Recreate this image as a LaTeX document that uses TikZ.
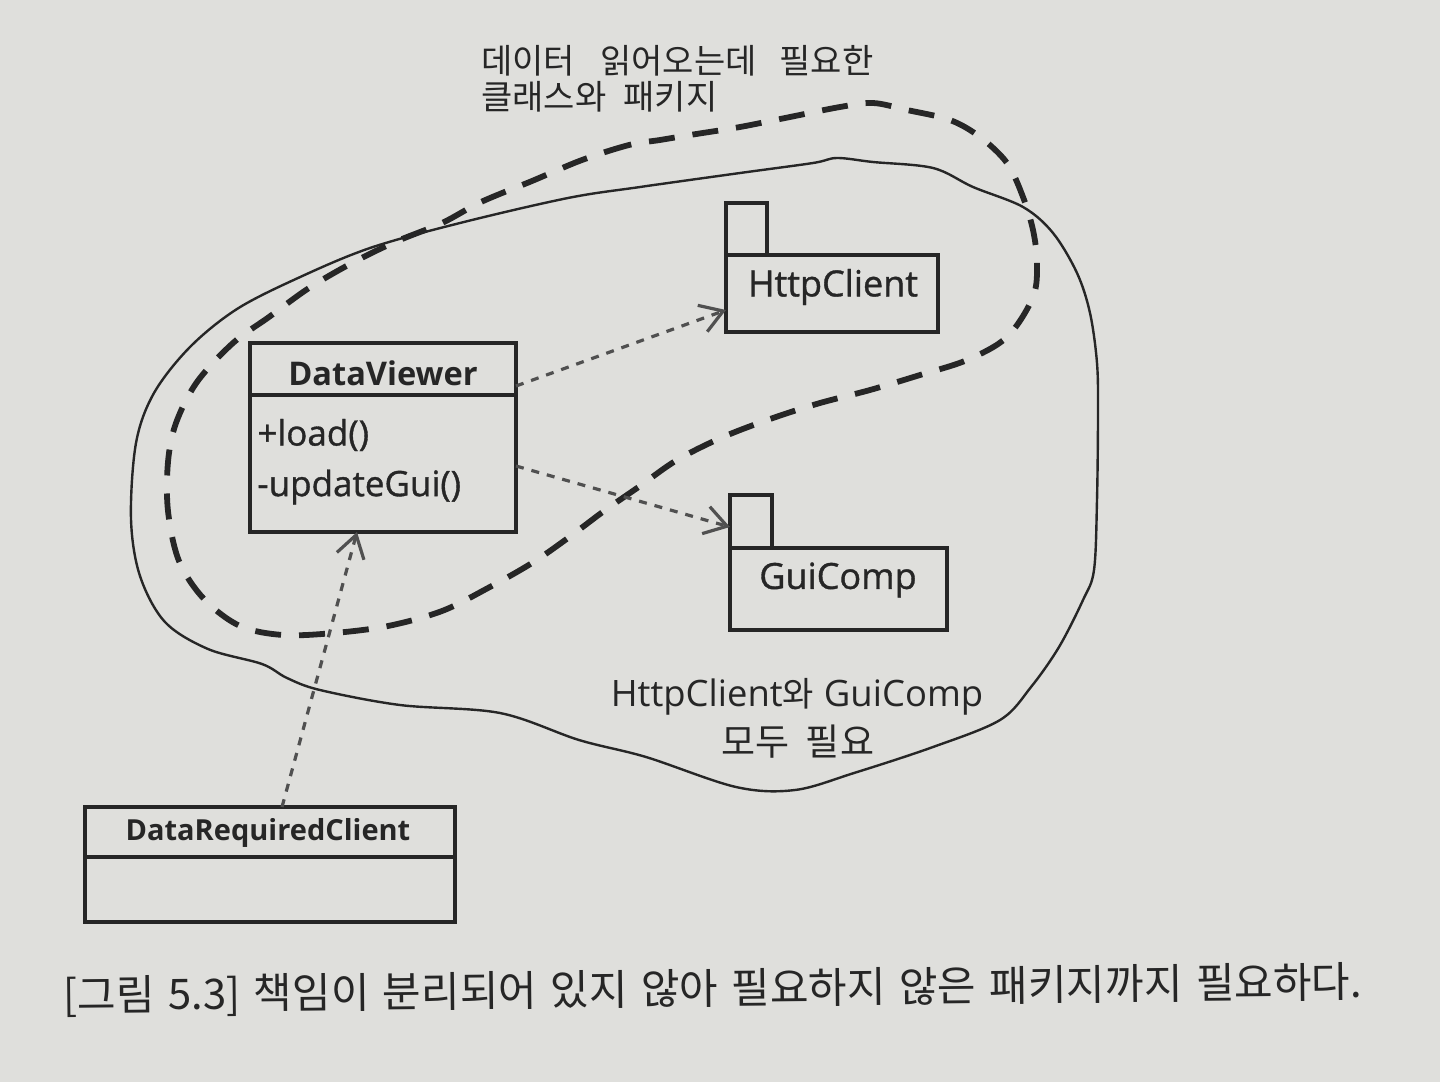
\documentclass[tikz,border=0pt]{standalone}
\usepackage{fontspec}
\newfontfamily\kr{Noto Sans CJK KR}
\newfontfamily\krc[WordSpace=1.4]{Noto Sans CJK KR}
\newfontfamily\os{Open Sans}
\newfontfamily\osm[FakeBold=1]{Open Sans}
\usetikzlibrary{arrows.meta,calc}
\definecolor{paper}{RGB}{223,223,220}
\definecolor{ink}{RGB}{38,38,38}
\definecolor{depc}{RGB}{80,80,80}
\begin{document}
\begin{tikzpicture}[x=0.5pt,y=-0.5pt,
  box/.style={draw=ink,line width=1.6pt,inner sep=0pt,outer sep=0pt},
  sepline/.style={draw=ink,line width=1.6pt},
  dep/.style={draw=depc,line width=1.6pt,dash pattern=on 4pt off 4pt,
    -{Straight Barb[length=11pt,width=14pt,line width=1.6pt]}},
  blob/.style={draw=ink,line width=1.2pt},
  band/.style={draw=ink,line width=2.9pt,dash pattern=on 13pt off 9pt},
  clsname/.style={font=\os\bfseries\fontsize{16.3}{19}\selectfont,text=ink},
  method/.style={font=\osm\fontsize{17.5}{20}\selectfont,text=ink,anchor=west,inner sep=0pt},
  pkgname/.style={font=\osm\fontsize{18}{21}\selectfont,text=ink},
  note/.style={font=\kr\fontsize{17}{20}\selectfont,text=ink,inner sep=0pt}]
\fill[paper] (0,0) rectangle (1440,1082);
\useasboundingbox (0,0) rectangle (1440,1082);

% solid hand-drawn region
\draw[blob] plot[smooth cycle,tension=0.55] coordinates {
 (640,187) (740,173) (813,163) (837,158) (873,162) (933,168) (973,187)
 (1023,207) (1053,233) (1077,273) (1090,313) (1097,363) (1098,413)
 (1097,500) (1094,570) (1083,600) (1059,647) (1031,687) (1000,720)
 (933,747) (854,773) (795,790) (736,787) (646,757) (579,740) (500,713)
 (400,705) (320,690) (287,678) (262,664) (208,649) (165,622) (140,576)
 (131,519) (136,443) (154,393) (190,347) (237,309) (298,278) (370,248)
 (460,223) (568,198)};

% thick dashed band
\draw[band] plot[smooth cycle,tension=0.55] coordinates {
 (660,140) (629,145) (582,160) (532,181) (481,202) (442,223) (395,242)
 (352,263) (309,288) (269,317) (233,343) (197,382) (176,423) (168,462)
 (168,511) (179,561) (204,599) (240,626) (283,635) (334,633) (388,626)
 (442,611) (488,588) (532,563) (568,538) (604,511) (640,486) (677,460)
 (723,437) (773,418) (820,403) (870,390) (920,375) (967,360) (1007,337)
 (1033,297) (1037,263) (1033,230) (1023,197) (1007,163) (980,137)
 (950,120) (907,110) (873,103) (840,107) (790,117) (740,127) (690,135)};

% DataViewer class
\node[box,minimum width=133pt,minimum height=94.5pt] (dv) at (383,437.5) {};
\draw[sepline] ($(dv.north west)+(0,52)$) -- ($(dv.north east)+(0,52)$);
\node[clsname] (dvname) at (383,373) {DataViewer};
\node[method] (dvm1) at (257,435) {+load()};
\node[method] (dvm2) at (257,487) {-updateGui()};

% HttpClient package
\node[box,minimum width=20.5pt,minimum height=26pt] (hctab) at (746.5,229) {};
\node[box,minimum width=106pt,minimum height=38.5pt] (hc) at (832,293.5) {};
\node[pkgname] (hcname) at (833,287) {HttpClient};

% GuiComp package
\node[box,minimum width=21pt,minimum height=26.5pt] (gctab) at (751,521.5) {};
\node[box,minimum width=108.5pt,minimum height=41pt] (gc) at (838.5,589) {};
\node[pkgname] (gcname) at (838,580) {GuiComp};

% DataRequiredClient class
\node[box,minimum width=185pt,minimum height=57.5pt] (drc) at (270,864.5) {};
\draw[sepline] ($(drc.north west)+(0,50)$) -- ($(drc.north east)+(0,50)$);
\node[clsname,font=\os\bfseries\fontsize{14.5}{17}\selectfont] (drcname) at (268,833) {DataRequiredClient};

% dependencies
\draw[dep] ($(dv.north east)+(0,43)$) -- ($(hc.south west)+(0,-22)$);
\draw[dep] ($(dv.north east)+(0,123)$) -- ($(gctab.south west)+(0,-21)$);
\draw[dep] ($(drc.north west)+(197,0)$) -- ($(dv.south west)+(107,0)$);

% annotations
\node[note,anchor=base west] (top1) at (481,73) {데이터\hspace{12.5pt}읽어오는데\hspace{11.5pt}필요한};
\node[note,anchor=base west] (top2) at (481,109) {클래스와\hspace{8.5pt}패키지};
\node[note] (mid1) at (797,697) {{\os\fontsize{18.2}{21}\selectfont HttpClient}와\hspace{5pt}{\os\fontsize{18.2}{21}\selectfont GuiComp}};
\node[note,font=\kr\fontsize{18.5}{21}\selectfont] (mid2) at (798,742) {모두\hspace{8pt}필요};

% caption
\node[note,font=\krc\fontsize{21}{24}\selectfont,anchor=west,rotate=0.6] (cap) at (63,997)
  {[그림 5.3] 책임이 분리되어 있지 않아 필요하지 않은 패키지까지 필요하다.};
\end{tikzpicture}
\end{document}
